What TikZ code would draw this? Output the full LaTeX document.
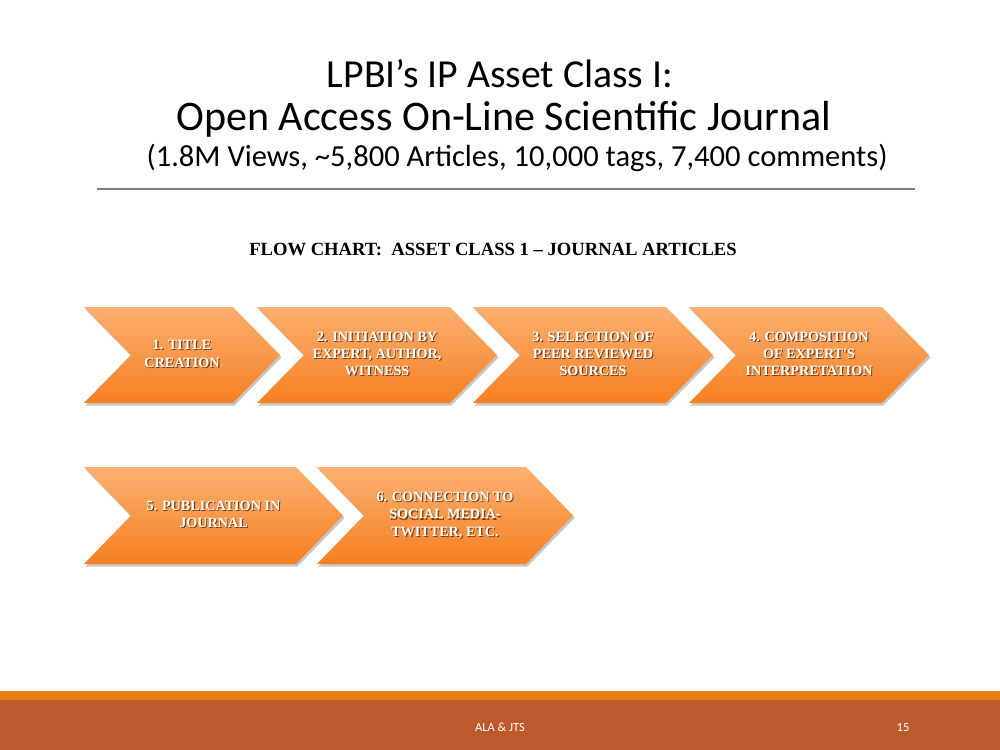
\documentclass[tikz,border=0pt]{standalone}
\usepackage{fontspec}
\setmainfont{Liberation Serif}
\newfontfamily\slidefont{Carlito}
\usetikzlibrary{calc}

\definecolor{chevtop}{RGB}{250,176,112}
\definecolor{chevbot}{RGB}{247,128,34}
\definecolor{chevshadow}{RGB}{110,60,30}
\definecolor{rulegray}{RGB}{128,128,128}
\definecolor{stripeorange}{RGB}{228,128,22}
\definecolor{footerrust}{RGB}{189,90,45}

\def\chevdepth{47}
% white label with a dark shadow under it
\newcommand{\chevlabel}[1]{\rlap{\color{chevshadow}\raisebox{-0.8pt}[0pt][0pt]{\hspace{0.8pt}\begin{tabular}{@{}c@{}}#1\end{tabular}}}\begin{tabular}{@{}c@{}}#1\end{tabular}}
% chevron: name, left x, top y, width, height, text
\newcommand{\chevron}[6]{%
	\fill[black, opacity=0.22] (#2+1.5,#3+2.5) -- ++(#4-\chevdepth,0) -- ++(\chevdepth,#5/2) -- ++(-\chevdepth,#5/2) -- ++(-#4+\chevdepth,0) -- ++(\chevdepth,-#5/2) -- cycle;
	\shade[top color=chevtop, bottom color=chevbot] (#2,#3) -- ++(#4-\chevdepth,0) -- ++(\chevdepth,#5/2) -- ++(-\chevdepth,#5/2) -- ++(-#4+\chevdepth,0) -- ++(\chevdepth,-#5/2) -- cycle;
	\node[chevtext] (#1) at (#2+#4/2,#3+#5/2) {\chevlabel{#6}};
}

\tikzset{
	chevtext/.style={text=white, font=\fontsize{10.2}{12.4}\selectfont\bfseries, inner sep=0pt},
	slidetitle/.style={anchor=base, font=\slidefont\fontsize{30.3}{36}\selectfont},
	footertext/.style={anchor=base, text=white, font=\slidefont\fontsize{9}{11}\selectfont}
}

\begin{document}
\begin{tikzpicture}[x=0.72pt, y=-0.72pt]
			%%%%% START %%%%%
			\useasboundingbox (0,0) rectangle (1000,750);
			\fill[white] (0,0) rectangle (1000,750);
			
			\node[slidetitle, font=\slidefont\fontsize{28.6}{34}\selectfont] (title1) at (500,88) {LPBI’s IP Asset Class I:};
			\node[slidetitle] (title2) at (504,131) {Open Access On-Line Scientific Journal};
			\node[slidetitle, font=\slidefont\fontsize{22}{26}\selectfont] (title3) at (517,167) {(1.8M Views, \textasciitilde5,800 Articles, 10,000 tags, 7,400 comments)};
			
			\draw[rulegray, line width=1.5pt] (97,189) -- (915,189);
			
			\node[anchor=base, font=\fontsize{13.4}{16}\selectfont\bfseries] (heading) at (493,256) {FLOW CHART:\ \ ASSET CLASS 1 – JOURNAL ARTICLES};
			
			\chevron{chev1}{84}{307}{196}{96}{1. TITLE\\CREATION}
			\chevron{chev2}{257}{307}{240}{96}{2. INITIATION BY\\EXPERT, AUTHOR,\\WITNESS}
			\chevron{chev3}{473}{307}{240}{96}{3. SELECTION OF\\PEER REVIEWED\\SOURCES}
			\chevron{chev4}{689}{307}{240}{96}{4. COMPOSITION\\OF EXPERT\textquotesingle S\\INTERPRETATION}
			
			\chevron{chev5}{84}{467}{259}{97}{5. PUBLICATION IN\\JOURNAL}
			\chevron{chev6}{317}{467}{256}{97}{6. CONNECTION TO\\SOCIAL MEDIA-\\TWITTER, ETC.}
			
			\fill[stripeorange] (0,691) rectangle (1000,700);
			\fill[footerrust] (0,700) rectangle (1000,750);
			\node[footertext] (authors) at (500,731) {ALA \& JTS};
			\node[footertext] (pageno) at (903,731) {15};
			%%%%% END %%%%%
\end{tikzpicture}
\end{document}
